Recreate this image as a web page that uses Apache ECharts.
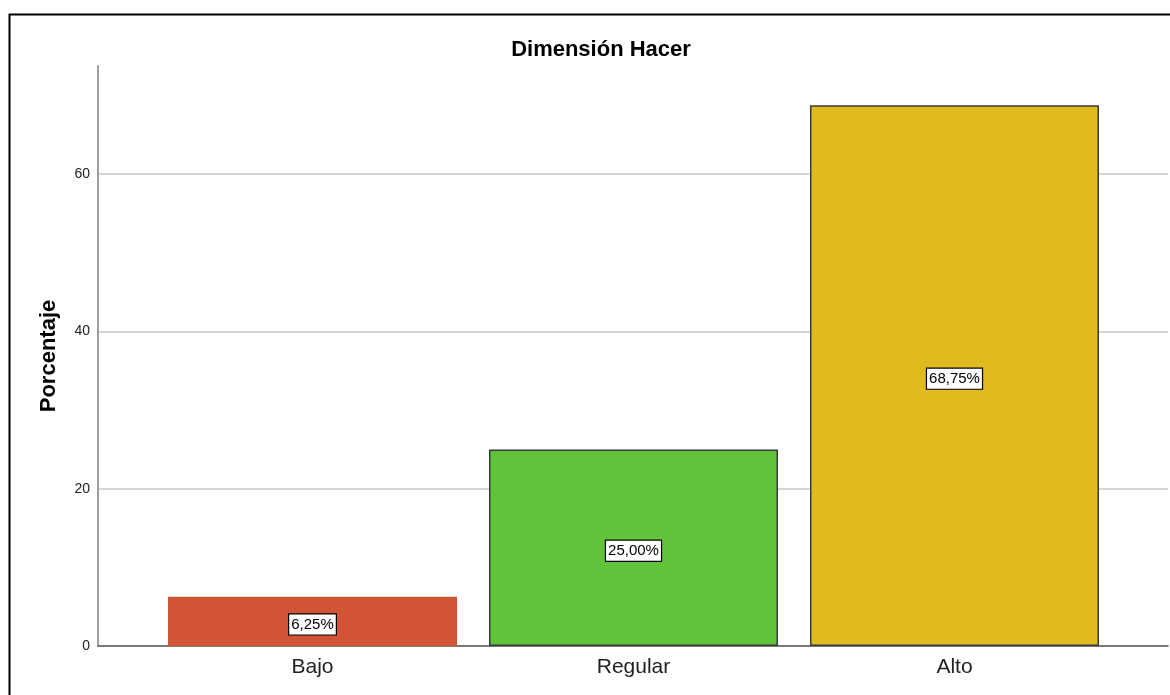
<!DOCTYPE html>
<html>
<head>
<meta charset="utf-8">
<script src="https://cdn.jsdelivr.net/npm/echarts@6/dist/echarts.min.js"></script>
<style>
  html, body { margin: 0; padding: 0; background: #fff; }
  #chart { width: 1170px; height: 695px; }
</style>
</head>
<body>
<div id="chart"></div>
<script>
// Frequency breakdown for the "Hacer" dimension
const categories = ['Bajo', 'Regular', 'Alto'];
const percentages = [6.25, 25.00, 68.75];
const barColors = ['#d15434', '#5fc43a', '#e0bb1f'];
const yTicks = [0, 20, 40, 60];

const FONT = '"Liberation Sans", Arial, sans-serif';
const Y_MAX = 73.75;
const plotTop = 66, plotBottom = 49;

const fmt = v => v.toFixed(2).replace('.', ',') + '%';

const chart = echarts.init(document.getElementById('chart'), null, { renderer: 'canvas' });

chart.setOption({
  backgroundColor: '#ffffff',
  animation: false,
  textStyle: { fontFamily: FONT },
  title: {
    text: 'Dimensión Hacer',
    left: 596, top: 34, textAlign: 'center',
    textStyle: { fontFamily: FONT, fontSize: 22, fontWeight: 'bold', color: '#000' }
  },
  graphic: [{
    type: 'rect',
    shape: { x: 9.5, y: 14.5, width: 1180, height: 700 },
    style: { fill: 'none', stroke: '#000', lineWidth: 2 },
    silent: true, z: 100
  }],
  grid: [
    // frame grid: value axis, gridlines, baseline
    { left: 98, right: 2, top: plotTop, bottom: plotBottom },
    // bar grid: category bands
    { left: 152, right: 55, top: plotTop, bottom: plotBottom }
  ],
  xAxis: [
    {
      gridIndex: 0, type: 'value', min: 0, max: 1,
      axisLine: { show: true, lineStyle: { color: '#5a5a5a', width: 1.5 } },
      axisTick: { show: false }, axisLabel: { show: false }, splitLine: { show: false }
    },
    {
      gridIndex: 1, type: 'category', data: categories,
      axisLine: { show: false }, axisTick: { show: false },
      axisLabel: { fontFamily: FONT, fontSize: 21, color: '#222', margin: 11 }
    }
  ],
  yAxis: [
    {
      gridIndex: 0, type: 'value', min: 0, max: Y_MAX, interval: 20,
      name: 'Porcentaje', nameLocation: 'middle', nameGap: 38, nameRotate: 90,
      nameTextStyle: { fontFamily: FONT, fontSize: 22, fontWeight: 'bold', color: '#000' },
      axisLine: { show: true, lineStyle: { color: '#a0a0a0', width: 2 } },
      axisTick: { show: false },
      axisLabel: {
        fontFamily: FONT, fontSize: 14, color: '#222', margin: 8,
        formatter: v => (yTicks.includes(v) ? String(v) : '')
      },
      splitLine: {
        show: true,
        lineStyle: { color: ['#c8c8c8', '#c8c8c8', '#c8c8c8', '#c8c8c8', 'rgba(0,0,0,0)'], width: 1.5 }
      }
    },
    {
      gridIndex: 1, type: 'value', min: 0, max: Y_MAX, interval: 20, show: false
    }
  ],
  series: [{
    type: 'bar',
    xAxisIndex: 1, yAxisIndex: 1,
    barWidth: 289,
    data: percentages.map((v, i) => ({
      value: v,
      itemStyle: {
        color: barColors[i],
        borderColor: i === 0 ? barColors[i] : '#3a3a3a',
        borderWidth: i === 0 ? 0 : 1.5
      }
    })),
    label: {
      show: true, position: 'inside', offset: [0, 3],
      formatter: p => fmt(p.value),
      fontFamily: FONT, fontSize: 15, lineHeight: 17, color: '#000',
      backgroundColor: '#fff', borderColor: '#000', borderWidth: 1.2,
      padding: [2, 2, 1, 2]
    },
    z: 3
  }]
});
</script>
</body>
</html>
